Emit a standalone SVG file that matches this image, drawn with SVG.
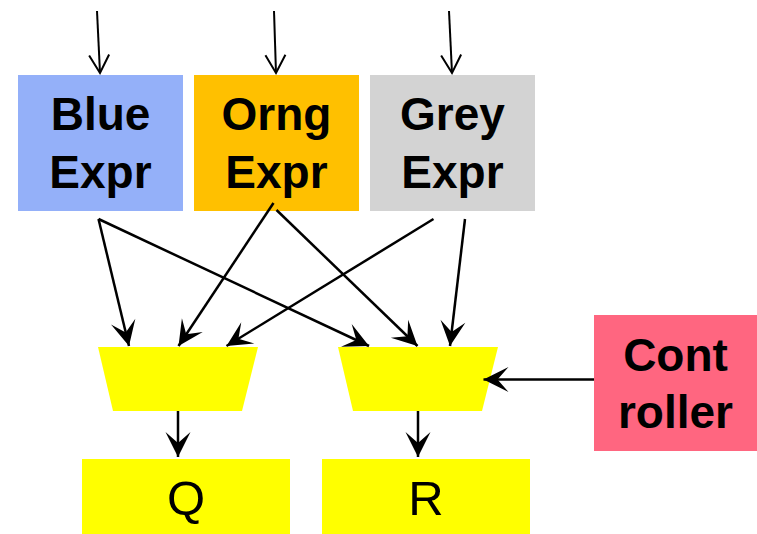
<svg xmlns="http://www.w3.org/2000/svg" width="757" height="534" viewBox="0 0 757 534">
  <style>
    .bold { font-family: "Liberation Sans", Arial, sans-serif; font-weight: bold; font-size: 46px; fill: #000; text-anchor: middle; }
    .reg { font-family: "Liberation Sans", Arial, sans-serif; font-size: 49px; fill: #000; text-anchor: middle; }
    .wire { stroke: #000; stroke-width: 2.5; fill: none; }
    .in { stroke: #000; stroke-width: 2; fill: none; marker-end: url(#open); }
    .sel { marker-end: url(#stealth); }
  </style>
  <defs>
    <marker id="stealth" markerUnits="userSpaceOnUse" markerWidth="30" markerHeight="30" viewBox="-27 -15 30 30" refX="0" refY="0" orient="auto">
      <path d="M0,0 L-25,-12.5 L-14,0 L-25,12.5 Z" fill="#000"/>
    </marker>
    <marker id="open" markerUnits="userSpaceOnUse" markerWidth="24" markerHeight="26" viewBox="-20 -12 24 24" refX="0" refY="0" orient="auto">
      <path d="M-18,-10 L0,0 L-18,10" fill="none" stroke="#000" stroke-width="2"/>
    </marker>
  </defs>

  <!-- expression blocks -->
  <g id="blue-expr">
    <rect x="18" y="75" width="165" height="136" fill="#94B0F9"/>
    <text class="bold" x="100.5" y="130">Blue</text>
    <text class="bold" x="100.5" y="188">Expr</text>
  </g>
  <g id="orng-expr">
    <rect x="194" y="75" width="165" height="136" fill="#FFC000"/>
    <text class="bold" x="276.5" y="130">Orng</text>
    <text class="bold" x="276.5" y="188">Expr</text>
  </g>
  <g id="grey-expr">
    <rect x="370" y="75" width="165" height="136" fill="#D3D3D3"/>
    <text class="bold" x="452.5" y="130">Grey</text>
    <text class="bold" x="452.5" y="188">Expr</text>
  </g>

  <!-- multiplexers -->
  <g id="mux-left">
    <polygon points="98,347 258,347 242,411 113,411" fill="#FFFF00"/>
  </g>
  <g id="mux-right">
    <polygon points="338,347 498,347 482,411 353,411" fill="#FFFF00"/>
  </g>

  <!-- controller -->
  <g id="controller">
    <rect x="594" y="315" width="163" height="136" fill="#FF6680"/>
    <text class="bold" x="675.5" y="371">Cont</text>
    <text class="bold" x="675.5" y="428">roller</text>
  </g>

  <!-- outputs -->
  <g id="q-out">
    <rect x="82" y="459" width="208" height="75" fill="#FFFF00"/>
    <text class="reg" x="186" y="515">Q</text>
  </g>
  <g id="r-out">
    <rect x="322" y="459" width="208" height="75" fill="#FFFF00"/>
    <text class="reg" x="426" y="515">R</text>
  </g>

  <!-- connectors -->
  <g id="connectors">
    <line class="in" x1="97" y1="11" x2="100" y2="73"/>
    <line class="in" x1="274" y1="11" x2="276" y2="73"/>
    <line class="in" x1="449" y1="11" x2="452" y2="73"/>

    <line class="wire sel" x1="98.5" y1="219" x2="129" y2="346"/>
    <line class="wire sel" x1="98.5" y1="219" x2="369" y2="346"/>
    <line class="wire sel" x1="273.5" y1="203" x2="178.5" y2="346"/>
    <line class="wire sel" x1="276.5" y1="210" x2="417.5" y2="346"/>
    <line class="wire sel" x1="433.5" y1="219" x2="226.5" y2="346"/>
    <line class="wire sel" x1="465" y1="219" x2="450" y2="346"/>

    <line class="wire sel" x1="594" y1="379.5" x2="483.5" y2="379.5"/>
    <line class="wire sel" x1="178" y1="411" x2="178" y2="457"/>
    <line class="wire sel" x1="418" y1="411" x2="418" y2="457"/>
  </g>
</svg>
